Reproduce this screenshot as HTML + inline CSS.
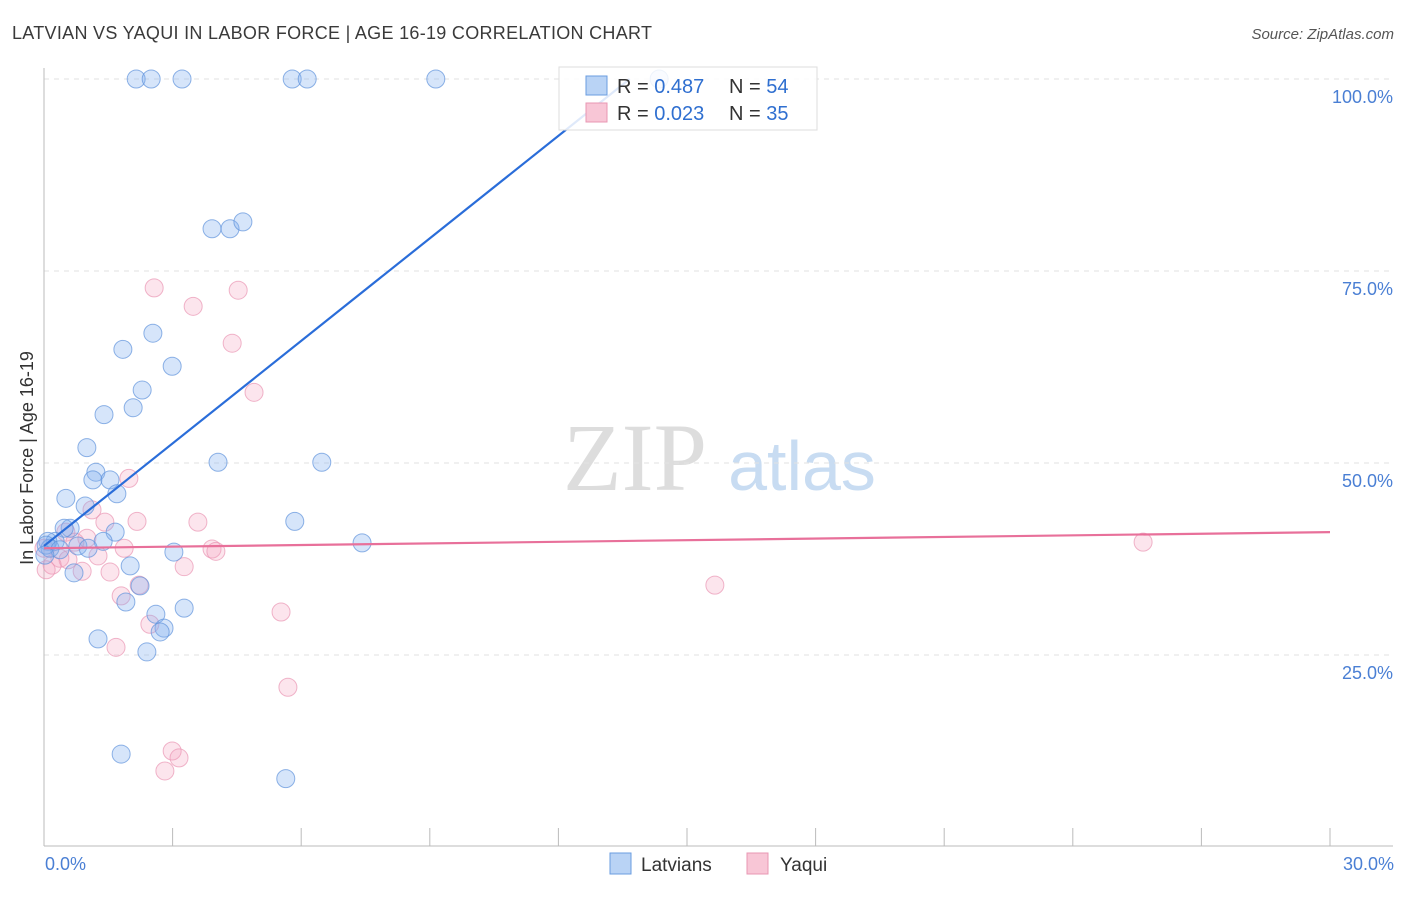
<!DOCTYPE html>
<html><head><meta charset="utf-8"><style>
body{margin:0;background:#fff;font-family:"Liberation Sans",sans-serif}
</style></head><body>
<svg width="1406" height="892" xmlns="http://www.w3.org/2000/svg" style="font-family:'Liberation Sans',sans-serif">
<text x="12" y="39" font-size="18" fill="#3a3a3a" textLength="640" lengthAdjust="spacing">LATVIAN VS YAQUI IN LABOR FORCE | AGE 16-19 CORRELATION CHART</text>
<text x="1394" y="39" font-size="15" fill="#555" font-style="italic" text-anchor="end">Source: ZipAtlas.com</text>
<g>
<text x="635" y="490" font-size="96" fill="#ddd" font-family="'Liberation Serif',serif" text-anchor="middle">ZIP</text>
<text x="802" y="490" font-size="70" fill="#c8dcf2" text-anchor="middle">atlas</text>
</g>
<g id="grid"></g>
<g id="axes"></g>
<g id="pink"></g>
<g id="blue"></g>
<g id="lines"></g>
<text x="33" y="458" font-size="18" fill="#333" transform="rotate(-90 33 458)" text-anchor="middle">In Labor Force | Age 16-19</text>
<text x="45" y="870" font-size="18" fill="#4a7fd4">0.0%</text>
<text x="1394" y="870" font-size="18" fill="#4a7fd4" text-anchor="end">30.0%</text>
<g>
<rect x="559" y="67" width="258" height="63" fill="#fff" fill-opacity="0.85" stroke="#ddd"/>
<rect x="586" y="76" width="21" height="19" fill="#b9d3f5" stroke="#6a9de0"/>
<rect x="586" y="103" width="21" height="19" fill="#f8c6d6" stroke="#e897b3"/>
<text x="617" y="93" font-size="20" fill="#333">R = <tspan fill="#2f6fd0">0.487</tspan></text>
<text x="729" y="93" font-size="20" fill="#333">N = <tspan fill="#2f6fd0">54</tspan></text>
<text x="617" y="120" font-size="20" fill="#333">R = <tspan fill="#2f6fd0">0.023</tspan></text>
<text x="729" y="120" font-size="20" fill="#333">N = <tspan fill="#2f6fd0">35</tspan></text>
</g>
<g>
<rect x="610" y="853" width="21" height="21" fill="#b9d3f5" stroke="#6a9de0"/>
<text x="641" y="871" font-size="19" fill="#333">Latvians</text>
<rect x="747" y="853" width="21" height="21" fill="#f8c6d6" stroke="#e897b3"/>
<text x="780" y="871" font-size="19" fill="#333">Yaqui</text>
</g>
</svg>
<script>
const yTicks=[25,50,75,100];
const yTickLabels=["25.0%","50.0%","75.0%","100.0%"];
const xTicks=[0,3,6,9,12,15,18,21,24,27,30];
const blueX=[2.15,2.5,3.22,5.79,6.14,9.14,14.35,3.92,4.34,4.64,2.54,1.84,2.99,2.29,2.08,1.4,1.0,4.06,6.48,1.21,1.14,1.54,1.7,0.51,0.96,0.61,0.47,1.66,1.38,5.85,7.42,0.26,0.09,0.79,1.03,0.14,3.03,2.01,0.7,2.24,1.91,2.61,3.27,2.8,2.71,1.26,2.4,1.8,5.64,0.05,0.37,0.02];
const blueY=[100,100,100,100,100,100,100,80.5,80.5,81.4,66.9,64.8,62.6,59.5,57.2,56.3,52.0,50.1,50.1,48.8,47.8,47.8,46.0,45.4,44.4,41.5,41.5,41.0,39.8,42.4,39.6,39.8,39.8,39.2,38.9,38.9,38.4,36.6,35.7,34.0,31.9,30.3,31.1,28.5,28.0,27.1,25.4,12.1,8.9,39.3,38.7,38.0];
const pinkX=[2.57,4.53,3.48,4.39,4.9,1.98,1.12,2.17,3.59,1.42,0.51,1.0,1.87,1.26,3.92,4.01,0.37,0.56,0.19,0.89,1.54,3.27,2.22,1.8,5.53,2.47,1.68,5.69,2.99,3.15,2.82,15.65,25.64,0.05,0.0,0.72];
const pinkY=[72.8,72.5,70.4,65.6,59.2,48.0,43.9,42.4,42.3,42.3,41.0,40.2,38.9,37.9,38.8,38.5,37.6,37.4,36.7,35.9,35.8,36.5,34.1,32.7,30.6,29.0,26.0,20.8,12.5,11.6,9.9,34.1,39.7,36.1,38.9,39.7];
const blueTrend=[39.2,4.45];
const pinkTrend=[38.9,0.07];
const NS="http://www.w3.org/2000/svg";
const X=v=>44+v*(1286/30), Y=v=>847-v*7.68;
function mk(t,a,p){const e=document.createElementNS(NS,t);for(const k in a)e.setAttribute(k,a[k]);p.appendChild(e);return e;}
const grid=document.getElementById('grid');
yTicks.forEach((t,i)=>{
 const l=mk('line',{x1:44,x2:1393,y1:Y(t),y2:Y(t),stroke:'#e2e2e2','stroke-dasharray':'5,5'},grid);
 
 
 const tx=mk('text',{x:1393,y:Y(t)+24,'font-size':18,fill:'#4a7fd4','text-anchor':'end'},grid);
 tx.textContent=yTickLabels[i];
 
 
});
const axes=document.getElementById('axes');
mk('line',{x1:44,x2:44,y1:68,y2:846,stroke:'#bbb'},axes);
mk('line',{x1:44,x2:1393,y1:846,y2:846,stroke:'#bbb'},axes);
xTicks.forEach(t=>{
 const l=mk('line',{x1:X(t),x2:X(t),y1:828,y2:846,stroke:'#bbb'},axes);
 
 
});
function pts(xs,ys,g,fill,stroke,name){xs.forEach((x,i)=>{
 const c=mk('circle',{cx:X(x),cy:Y(ys[i]),r:9,fill:fill,stroke:stroke,'stroke-width':1,'stroke-opacity':0.7},g);
 
 
});}
pts(pinkX,pinkY,document.getElementById('pink'),'rgba(244,160,190,0.28)','#e995b3','yaqui-point');
pts(blueX,blueY,document.getElementById('blue'),'rgba(130,175,240,0.33)','#5f93dc','latvian-point');
const lg=document.getElementById('lines');
const bEnd=(100-blueTrend[0])/blueTrend[1];
const bl=mk('line',{x1:X(0),y1:Y(blueTrend[0]),x2:X(bEnd),y2:Y(100),stroke:'#2a6dd9','stroke-width':2.2},lg);


const pl=mk('line',{x1:X(0),y1:Y(pinkTrend[0]),x2:X(30),y2:Y(pinkTrend[0]+30*pinkTrend[1]),stroke:'#e8709a','stroke-width':2.2},lg);


</script>
</body></html>
